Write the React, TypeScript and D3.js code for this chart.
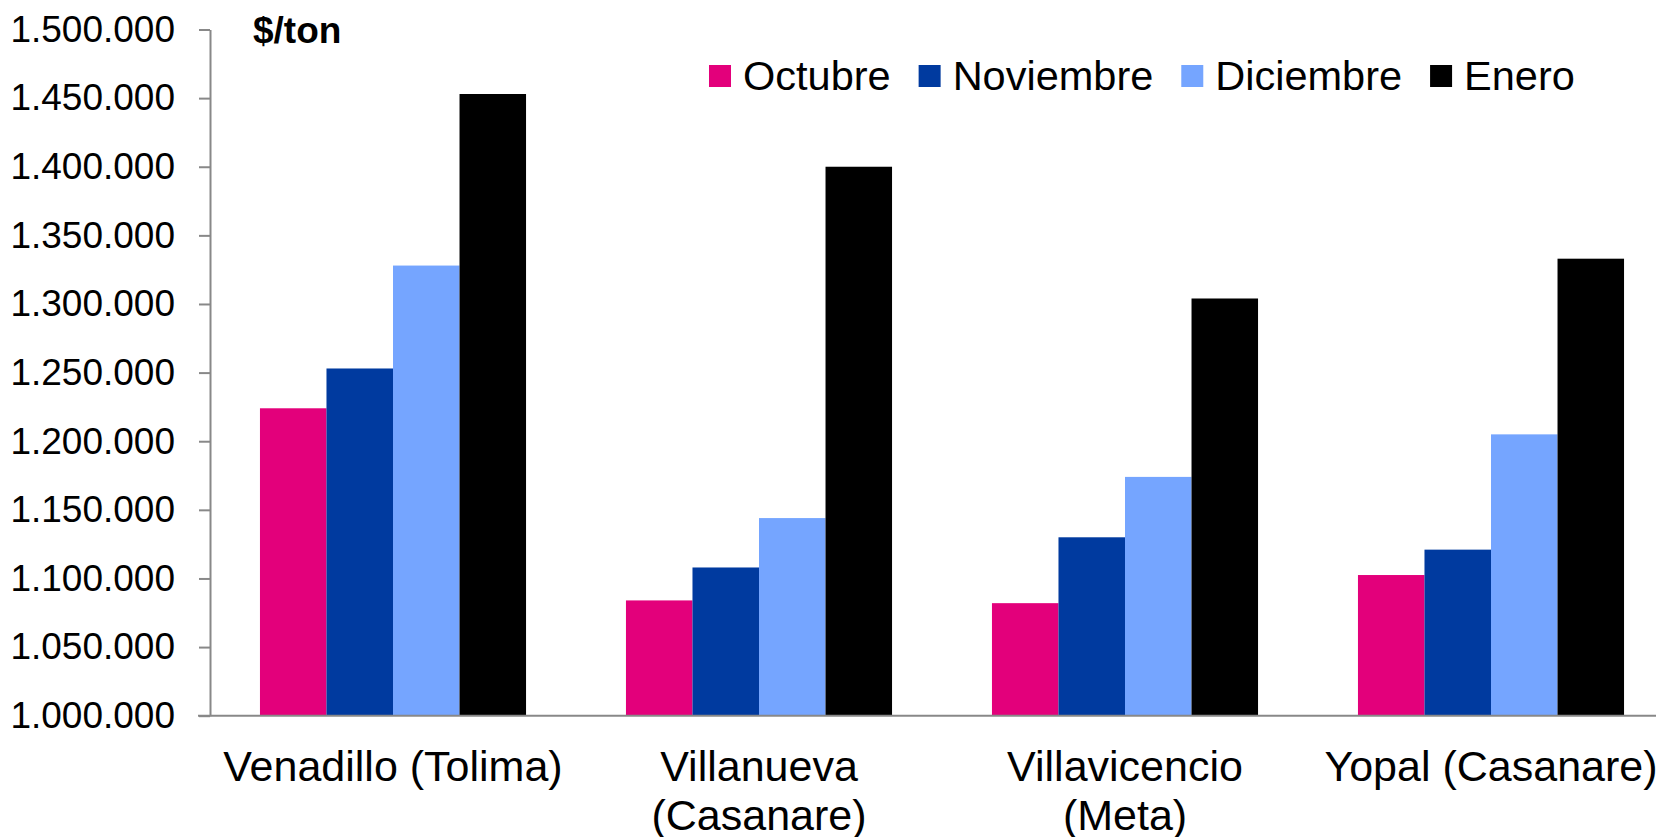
import React, { useEffect, useRef } from "react";
import * as d3 from "d3";

const categories = [
  "Venadillo (Tolima)",
  "Villanueva (Casanare)",
  "Villavicencio (Meta)",
  "Yopal (Casanare)",
];
const months = ["Octubre", "Noviembre", "Diciembre", "Enero"];
const colors = ["#e3007b", "#003a9f", "#75a5ff", "#000000"];

const octubre = [1224000, 1084000, 1082000, 1102500];
const noviembre = [1253000, 1108000, 1130000, 1121000];
const diciembre = [1328000, 1144000, 1174000, 1205000];
const enero = [1453000, 1400000, 1304000, 1333000];

const yTicks = [
  1000000, 1050000, 1100000, 1150000, 1200000, 1250000, 1300000, 1350000,
  1400000, 1450000, 1500000,
];

const unitLabel = "$/ton";
const FONT = "'Liberation Sans', Arial, sans-serif";

export default function App() {
  const ref = useRef<SVGSVGElement | null>(null);

  useEffect(() => {
    const w = 1656;
    const m = { top: 29.5, left: 210, bottom: 715.7 };
    const step = 366;

    const svg = d3.select(ref.current);
    svg.selectAll("*").remove();

    const series = [octubre, noviembre, diciembre, enero];

    const x = d3
      .scaleBand()
      .domain(categories)
      .range([m.left, m.left + step * categories.length])
      .paddingInner(0.273)
      .paddingOuter(0.1365);

    const x1 = d3.scaleBand().domain(months).range([0, x.bandwidth()]);

    const y = d3
      .scaleLinear()
      .domain([1000000, 1500000])
      .range([m.bottom, m.top]);

    const locale = d3.formatLocale({
      decimal: ",",
      thousands: ".",
      grouping: [3],
      currency: ["$", ""],
    });
    const fmt = locale.format(",d");

    // bars
    const groups = svg
      .append("g")
      .selectAll("g")
      .data(categories)
      .join("g")
      .attr("transform", (d) => `translate(${x(d)},0)`);

    groups
      .selectAll("rect")
      .data((d, i) => months.map((mo, j) => ({ mo, v: series[j][i], c: colors[j] })))
      .join("rect")
      .attr("x", (d) => x1(d.mo) as number)
      .attr("width", x1.bandwidth())
      .attr("y", (d) => y(d.v))
      .attr("height", (d) => y(1000000) - y(d.v))
      .attr("fill", (d) => d.c);

    // y axis
    const yaxis = d3
      .axisLeft(y)
      .tickValues(yTicks)
      .tickFormat((d) => fmt(d as number))
      .tickSize(11)
      .tickSizeOuter(0)
      .tickPadding(24);

    const gy = svg.append("g").attr("transform", `translate(${m.left},0)`).call(yaxis);
    gy.selectAll("path, line").attr("stroke", "#888").attr("stroke-width", 2);
    gy.selectAll("text")
      .attr("fill", "#000")
      .style("font-family", FONT)
      .style("font-size", "37px");

    // x axis baseline
    svg
      .append("line")
      .attr("x1", m.left - 12)
      .attr("x2", w)
      .attr("y1", y(1000000))
      .attr("y2", y(1000000))
      .attr("stroke", "#888")
      .attr("stroke-width", 2);

    // category labels, wrapped like the original
    const lineH = 48.5;
    categories.forEach((c) => {
      const cx = (x(c) as number) + x.bandwidth() / 2;
      const t = svg
        .append("text")
        .attr("x", cx)
        .attr("y", 781)
        .attr("text-anchor", "middle")
        .style("font-family", FONT)
        .style("font-size", "43px")
        .attr("fill", "#000");
      const words = c.split(" ");
      let line: string[] = [];
      let tspan = t.append("tspan").attr("x", cx).attr("dy", 0);
      words.forEach((wd) => {
        line.push(wd);
        tspan.text(line.join(" "));
        const len = (tspan.node() as SVGTSpanElement).getComputedTextLength();
        if (len > step && line.length > 1) {
          line.pop();
          tspan.text(line.join(" "));
          line = [wd];
          tspan = t.append("tspan").attr("x", cx).attr("dy", lineH).text(wd);
        }
      });
    });

    // unit label
    svg
      .append("text")
      .attr("x", 253)
      .attr("y", 43)
      .style("font-family", FONT)
      .style("font-size", "37px")
      .style("font-weight", "bold")
      .text(unitLabel);

    // legend
    const lg = svg.append("g").attr("transform", "translate(709,65)");
    let lx = 0;
    months.forEach((mo, i) => {
      lg.append("rect")
        .attr("x", lx)
        .attr("y", 0)
        .attr("width", 22)
        .attr("height", 22)
        .attr("fill", colors[i]);
      const tx = lg
        .append("text")
        .attr("x", lx + 34)
        .attr("y", 25)
        .style("font-family", FONT)
        .style("font-size", "41.5px")
        .text(mo);
      const len = (tx.node() as SVGTextElement).getComputedTextLength();
      lx += 34 + len + 28;
    });
  }, []);

  return (
    <svg
      ref={ref}
      width={1656}
      height={837}
      style={{ position: "absolute", top: 0, left: 0, background: "#fff" }}
    />
  );
}
